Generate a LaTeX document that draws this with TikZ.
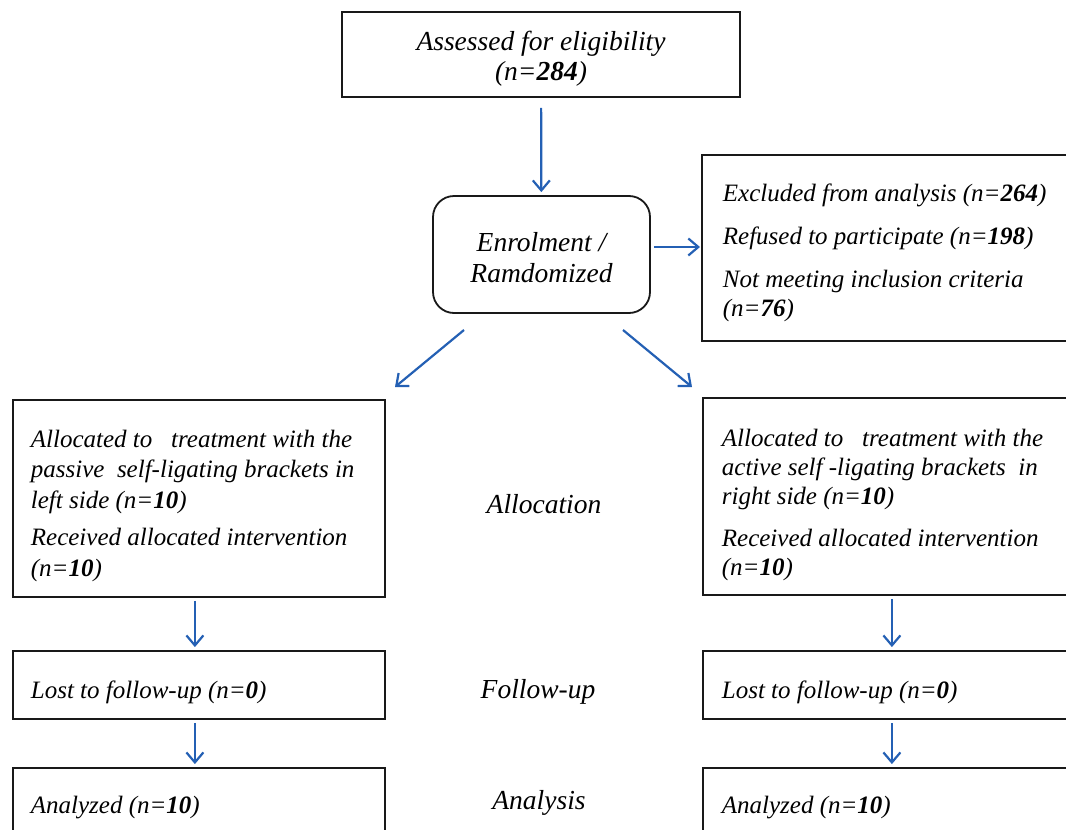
\documentclass[tikz,border=0pt]{standalone}
\usepackage{fontspec}
\setmainfont{Liberation Serif}
\usetikzlibrary{arrows.meta}
\definecolor{arrowblue}{RGB}{36,96,180}
\newcommand{\lift}[1]{\rule{0pt}{#1pt}}
\begin{document}
\begin{tikzpicture}[x=1pt,y=-1pt,
  box/.style={draw=black!90,line width=1.8pt,inner ysep=0pt},
  txt/.style={font=\fontsize{25}{30}\selectfont\itshape},
  bigtxt/.style={font=\fontsize{27.5}{30}\selectfont\itshape},
  lbox/.style={box,txt,align=flush left,anchor=west},
  flow/.style={draw=arrowblue,line width=2.2pt,-{Straight Barb[length=10pt,width=17pt,line width=2.2pt]}},
]
\path[use as bounding box] (0,0) rectangle (1066,830);
\clip (0,0) rectangle (1066,830);

% top
\node[box,bigtxt,align=center,minimum width=398pt,minimum height=85pt] (assess) at (541,54.5)
  {\lift{28}Assessed for eligibility\\(n=\textbf{284})};
\node[box,align=center,rounded corners=21pt,minimum width=217pt,minimum height=117pt,
      font=\fontsize{27.5}{31}\selectfont\itshape] (enrol) at (541.5,254.5)
  {\lift{25}Enrolment /\\Ramdomized};
\node[lbox,inner xsep=21pt,text width=358pt,minimum height=186pt,
      font=\fontsize{25}{29}\selectfont\itshape] (excl) at (701,248)
  {\lift{27}Excluded from analysis (n=\textbf{264})\\[14pt]
   Refused to participate (n=\textbf{198})\\[14pt]
   Not meeting inclusion criteria\\(n=\textbf{76})};

% allocation
\node[lbox,inner xsep=18pt,text width=336pt,minimum height=197pt,
      font=\fontsize{25}{30.5}\selectfont\itshape] (allocL) at (12,498.5)
  {\lift{32}Allocated to \ \ treatment with the\\
   passive \ self-ligating brackets in\\
   left side (n=\textbf{10})\\[7pt]
   Received allocated intervention\\(n=\textbf{10})};
\node[lbox,inner xsep=19pt,text width=362pt,minimum height=197pt,
      font=\fontsize{25}{29}\selectfont\itshape] (allocR) at (702,496.5)
  {\lift{34}Allocated to \ \ treatment with the\\
   active self -ligating brackets \ in\\
   right side (n=\textbf{10})\\[13pt]
   Received allocated intervention\\(n=\textbf{10})};
\node[bigtxt] (allocLab) at (544,504) {Allocation};

% follow-up
\node[lbox,inner xsep=18pt,text width=336pt,minimum height=68pt] (followL) at (12,685) {\lift{33}Lost to follow-up (n=\textbf{0})};
\node[lbox,inner xsep=19pt,text width=362pt,minimum height=68pt] (followR) at (702,685) {\lift{33}Lost to follow-up (n=\textbf{0})};
\node[bigtxt] (followLab) at (538,692) {Follow-up};

% analysis
\node[lbox,inner xsep=18pt,text width=336pt,minimum height=74pt] (anaL) at (12,805) {\lift{23}Analyzed (n=\textbf{10})};
\node[lbox,inner xsep=19pt,text width=362pt,minimum height=74pt] (anaR) at (702,805) {\lift{23}Analyzed (n=\textbf{10})};
\node[bigtxt] (anaLab) at (539,803) {Analysis};

% connectors
\draw[flow,shorten <=10pt,shorten >=3pt] (assess) -- (enrol);
\draw[flow,shorten <=3pt,shorten >=1pt] ([yshift=7.5pt]enrol.east) -- ([yshift=1pt]excl.west);
\coordinate (dl1) at (464,330);
\coordinate (dl2) at (395,387);
\coordinate (dr1) at (623,330);
\coordinate (dr2) at (692,387);
\draw[flow] (dl1) -- (dl2);
\draw[flow] (dr1) -- (dr2);
\draw[flow,shorten <=3pt,shorten >=3pt] ([xshift=-4pt]allocL.south) -- ([xshift=-4pt]followL.north);
\draw[flow,shorten <=3pt,shorten >=3pt] ([xshift=-11pt]allocR.south) -- ([xshift=-11pt]followR.north);
\draw[flow,shorten <=3pt,shorten >=3pt] ([xshift=-4pt]followL.south) -- ([xshift=-4pt]anaL.north);
\draw[flow,shorten <=3pt,shorten >=3pt] ([xshift=-11pt]followR.south) -- ([xshift=-11pt]anaR.north);
\end{tikzpicture}
\end{document}
